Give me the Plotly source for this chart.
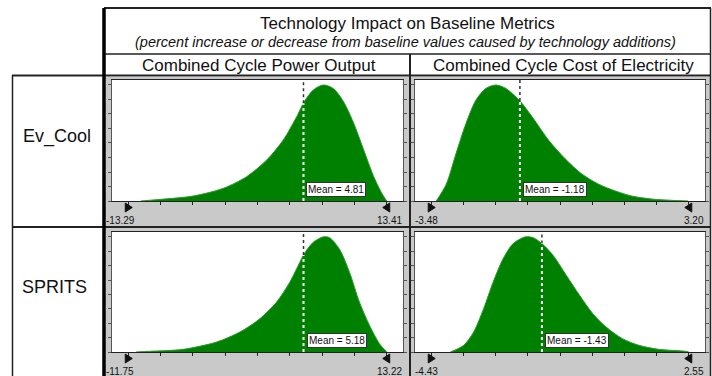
import numpy as np
import plotly.graph_objects as go

W, H = 712, 376
FONT = "Liberation Sans, Arial, sans-serif"

# ---------------- data ----------------
title_text = "Technology Impact on Baseline Metrics"
subtitle_text = "(percent increase or decrease from baseline values caused by technology additions)"
row_names = ["Ev_Cool", "SPRITS"]
col_names = ["Combined Cycle Power Output", "Combined Cycle Cost of Electricity"]

# Ev_Cool / Power Output
ev_power_bounds = [-13.29, 13.41]
ev_power_mean = 4.81
ev_power_x = [-12.0, -10.71, -6.58, -3.48, -1.06, 1.01, 2.72, 4.11, 4.89, 5.82, 6.85,
              7.89, 8.92, 9.95, 10.99, 12.02, 12.88, 13.41]
ev_power_h = [0.0, 0.009, 0.043, 0.109, 0.21, 0.353, 0.526, 0.727, 0.856, 0.957, 1.0,
              0.97, 0.86, 0.68, 0.45, 0.22, 0.07, 0.0]

# Ev_Cool / Cost of Electricity
ev_cost_bounds = [-3.48, 3.20]
ev_cost_mean = -1.18
ev_cost_x = [-3.35, -3.09, -2.84, -2.58, -2.32, -2.06, -1.80, -1.55, -1.20, -0.86, -0.43,
             0.00, 0.43, 0.86, 1.29, 1.72, 2.24, 2.75, 3.18]
ev_cost_h = [0.0, 0.145, 0.406, 0.667, 0.870, 0.971, 1.0, 0.971, 0.870, 0.725, 0.522,
             0.362, 0.232, 0.145, 0.087, 0.043, 0.017, 0.006, 0.0]

# SPRITS / Power Output
sp_power_bounds = [-11.75, 13.22]
sp_power_mean = 5.18
sp_power_x = [-11.0, -9.66, -6.45, -3.23, -0.98, 0.95, 2.56, 3.84, 4.81, 5.22, 6.09, 7.05,
              7.70, 8.66, 9.63, 10.59, 11.56, 12.52, 13.22]
sp_power_h = [0.0, 0.006, 0.023, 0.086, 0.173, 0.288, 0.432, 0.605, 0.778, 0.850, 0.951, 1.0,
              0.994, 0.893, 0.692, 0.432, 0.231, 0.072, 0.0]

# SPRITS / Cost of Electricity
sp_cost_bounds = [-4.43, 2.55]
sp_cost_mean = -1.43
sp_cost_x = [-3.91, -3.55, -3.28, -3.01, -2.75, -2.48, -2.21, -1.89, -1.67, -1.43, -1.13,
             -0.77, -0.41, -0.05, 0.31, 0.75, 1.20, 1.74, 2.46, 2.55]
sp_cost_h = [0.0, 0.058, 0.174, 0.377, 0.609, 0.812, 0.942, 1.0, 0.994, 0.942, 0.841,
             0.667, 0.493, 0.333, 0.217, 0.116, 0.058, 0.023, 0.006, 0.0]

panels = [
    (0, 0, ev_power_bounds, ev_power_mean, ev_power_x, ev_power_h),
    (0, 1, ev_cost_bounds, ev_cost_mean, ev_cost_x, ev_cost_h),
    (1, 0, sp_power_bounds, sp_power_mean, sp_power_x, sp_power_h),
    (1, 1, sp_cost_bounds, sp_cost_mean, sp_cost_x, sp_cost_h),
]

# ---------------- layout geometry (pixels) ----------------
col_px = [(112, 403), (415, 705)]
row_px = [(80, 201), (232, 352)]
panel_gray = [[(104, 77, 409, 226), (411, 77, 710, 226)],
              [(104, 228, 409, 376), (411, 228, 710, 376)]]
YTOP = 1.043
GREEN = "#008000"
GRAY = "#c9c9c9"
DARK = "#222222"


def px(x):
    return x / W


def py(y):
    return 1 - y / H


fig = go.Figure()
bg_shapes = []
shapes = []
annotations = []
layout_axes = {}

# gray panel backgrounds + white plot areas
for row in panel_gray:
    for (x0, y0, x1, y1) in row:
        bg_shapes.append(dict(type="rect", xref="paper", yref="paper", x0=px(x0), x1=px(x1),
                              y0=py(y1), y1=py(y0), fillcolor=GRAY, line=dict(width=0),
                              layer="below"))
for r in range(2):
    for c in range(2):
        bg_shapes.append(dict(type="rect", xref="paper", yref="paper",
                              x0=px(col_px[c][0]), x1=px(col_px[c][1]),
                              y0=py(row_px[r][1]), y1=py(row_px[r][0]),
                              fillcolor="white", line=dict(width=0), layer="below"))

# flag glyphs (pixel offsets from the anchor point on the baseline)
FLAG_RIGHT = "M-3,-2 L-3,-11 L4,-6.5 Z"
FLAG_LEFT = "M3,-2 L3,-11 L-4,-6.5 Z"

for i, (r, c, bounds, mean, xs, hs) in enumerate(panels):
    n = i + 1
    xa = "x" if n == 1 else f"x{n}"
    ya = "y" if n == 1 else f"y{n}"
    xkey = "xaxis" if n == 1 else f"xaxis{n}"
    ykey = "yaxis" if n == 1 else f"yaxis{n}"
    lo, hi = bounds
    pad = 0.063 * (hi - lo)
    ticks_x = [lo + k * (hi - lo) / 8 for k in range(9)]
    layout_axes[xkey] = dict(
        domain=[px(col_px[c][0]), px(col_px[c][1])], anchor=ya,
        range=[lo - pad, hi + pad], showgrid=False, zeroline=False,
        showline=True, linecolor=DARK, linewidth=1, mirror=True,
        ticks="outside", ticklen=3, tickcolor=DARK, tickvals=ticks_x,
        showticklabels=False, fixedrange=True)
    layout_axes[ykey] = dict(
        domain=[py(row_px[r][1]), py(row_px[r][0])], anchor=xa,
        range=[0, YTOP], showgrid=False, zeroline=False,
        showline=True, linecolor="#555555", linewidth=1, mirror="ticks",
        ticks="outside", ticklen=3, tickcolor="#555555",
        tickvals=[k / 8 for k in range(9)], showticklabels=False, fixedrange=True)

    fig.add_trace(go.Scatter(
        x=xs, y=hs, mode="lines",
        line=dict(color="#2a9a2a", width=1, shape="spline", smoothing=0.8),
        fill="tozeroy", fillcolor=GREEN, xaxis=xa, yaxis=ya, hoverinfo="skip",
        showlegend=False))

    # min/max flags below the baseline (x in data units, y anchored to the baseline)
    for xv, path in ((lo, FLAG_RIGHT), (hi, FLAG_LEFT)):
        shapes.append(dict(type="path", xref=xa, yref="paper", xsizemode="pixel",
                           ysizemode="pixel", xanchor=xv, yanchor=py(row_px[r][1]),
                           path=path, fillcolor="#111111",
                           line=dict(color="#111111", width=1)))

    # mean line: dark dotted above the curve, white dotted inside the fill
    hm = float(np.interp(mean, xs, hs))
    shapes.append(dict(type="line", xref=xa, yref=ya, x0=mean, x1=mean, y0=hm, y1=YTOP,
                       line=dict(color="#333333", width=1.5, dash="dot"), layer="above"))
    shapes.append(dict(type="line", xref=xa, yref=ya, x0=mean, x1=mean, y0=0, y1=hm,
                       line=dict(color="white", width=2, dash="dot"), layer="above"))
    annotations.append(dict(
        x=mean, xref=xa, y=0, yref=f"{ya} domain", xanchor="left", yanchor="bottom",
        xshift=3, yshift=4, text=f"Mean = {mean:.2f}", showarrow=False,
        font=dict(family=FONT, size=10, color="#111111"),
        bgcolor="white", bordercolor="#333333", borderwidth=1, borderpad=1))

    # bound labels
    lab_y = py(row_px[r][1] + 19)
    left_px = 104 if c == 0 else 413
    annotations.append(dict(x=px(left_px), y=lab_y, xref="paper", yref="paper",
                            xanchor="left", yanchor="middle", text=f"{lo:.2f}",
                            showarrow=False, font=dict(family=FONT, size=10, color="#111111")))
    annotations.append(dict(x=px(col_px[c][1] + 1), y=lab_y, xref="paper", yref="paper",
                            xanchor="right", yanchor="middle", text=f"{hi:.2f}",
                            showarrow=False, font=dict(family=FONT, size=10, color="#111111")))


def hline(y, x0, x1, w=1.5, color=DARK):
    shapes.append(dict(type="line", xref="paper", yref="paper", x0=px(x0), x1=px(x1),
                       y0=py(y), y1=py(y), line=dict(color=color, width=w)))


def vline(x, y0, y1, w=1.5, color=DARK):
    shapes.append(dict(type="line", xref="paper", yref="paper", x0=px(x), x1=px(x),
                       y0=py(y0), y1=py(y1), line=dict(color=color, width=w)))


# header table
hline(8, 104, 711, 2)
hline(54, 104, 711, 1.5)
hline(75.5, 12, 711, 2)
hline(227, 12, 711, 2)
vline(104, 8, 376, 3.5, "#000000")
vline(710.5, 8, 376, 1.5)
vline(410, 54, 376, 2)
vline(12.5, 75, 376, 1.5)


def label(text, x, y, size, italic=False):
    annotations.append(dict(x=px(x), y=py(y), xref="paper", yref="paper",
                            xanchor="center", yanchor="middle",
                            text=f"<i>{text}</i>" if italic else text, showarrow=False,
                            font=dict(family=FONT, size=size, color="#111111")))


label(title_text, 408, 23, 17)
label(subtitle_text, 405, 42, 14.5, italic=True)
label(col_names[0], 259, 65, 17)
label(col_names[1], 563, 65, 17)
label(row_names[0], 57, 137, 18)
label(row_names[1], 54, 287, 18)

fig.update_layout(
    width=W, height=H, margin=dict(l=0, r=0, t=0, b=0),
    paper_bgcolor="white", plot_bgcolor="white",
    shapes=bg_shapes + shapes, annotations=annotations, showlegend=False,
    **layout_axes)

fig.write_html("out.html", config={"displayModeBar": False})
